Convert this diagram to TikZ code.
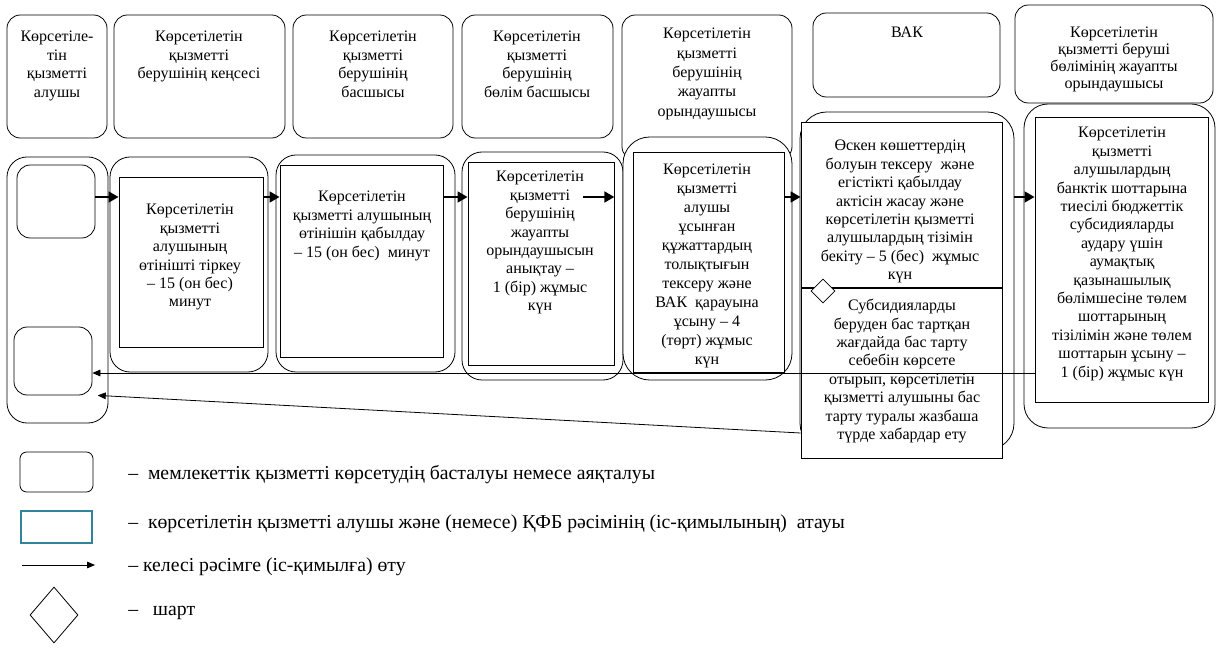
\documentclass[tikz,border=0pt]{standalone}
\usepackage{fontspec}
\setmainfont{Liberation Serif}
\usepackage{tikz}
\usetikzlibrary{positioning, arrows.meta, calc, fit, shapes.geometric}

\definecolor{legteal}{RGB}{49,132,155}

\begin{document}
\begin{tikzpicture}[x=0.75pt, y=-0.75pt,
    head/.style={draw, rounded corners=10pt, inner sep=0pt, line width=0.6pt, fill=white},
    lane/.style={draw, rounded corners=15pt, inner sep=0pt, line width=0.6pt, fill=white},
    act/.style={draw, inner sep=0pt, line width=0.6pt, fill=white},
    cond/.style={diamond, draw, fill=white, inner sep=0pt, line width=0.6pt},
    txt/.style={align=center, inner sep=0pt, anchor=north, font=\fontsize{12}{13.8}\selectfont},
    key/.style={anchor=west, inner sep=0pt, font=\fontsize{14.8}{17}\selectfont},
    flow/.style={-{Triangle[length=7.5pt, width=8pt]}, line width=2.2pt},
    back/.style={-{Triangle[length=6pt, width=5pt]}, line width=0.6pt}]

  \useasboundingbox (0,0) rectangle (1217,648);

  % headers
  \node[head, fit={(7,15) (107,138)}]     (h1) {};
  \node[head, fit={(114,15) (285,138)}]   (h2) {};
  \node[head, fit={(293,15) (453,138)}]   (h3) {};
  \node[head, fit={(462,15) (613,138)}]   (h4) {};
  \node[head, fit={(622,15) (792,160)}]   (h5) {};
  \node[head, fit={(813,13) (1000,97)}]   (h6) {};
  \node[head, fit={(1015,5) (1213,103)}]  (h7) {};

  % lanes
  \node[lane, fit={(7,157) (108,423)}]    (l1) {};
  \node[lane, fit={(110,157) (268,372)}]  (l2) {};
  \node[lane, fit={(276,155) (455,372)}]  (l3) {};
  \node[lane, fit={(462,152) (623,380)}]  (l4) {};
  \node[lane, rounded corners=20pt, fit={(623,137) (792,380)}]  (l5) {};
  \node[lane, rounded corners=20pt, fit={(800,112) (1014,450)}] (l6) {};
  \node[lane, rounded corners=18pt, fit={(1024,104) (1215,428)}] (l7) {};

  % start / end boxes of the first lane
  \node[head, fit={(17,165) (95,238)}]    (s1) {};
  \node[head, fit={(14,327) (92,395)}]    (s2) {};

  % steps
  \node[act, fit={(119,177) (263,347)}]   (r2) {};
  \node[act, fit={(280,165) (443,357)}]   (r3) {};
  \node[act, fit={(468,162) (614,365)}]   (r4) {};
  \node[act, fit={(633,152) (784,372)}]   (r5) {};
  \node[act, fit={(801,122) (1002,288)}]  (r6a) {};
  \node[act, fit={(801,288) (1002,458)}]  (r6b) {};
  \node[act, fit={(1035,117) (1208,402)}] (r7) {};
  \draw[line width=1.6pt] (r6a.south west) -- (r6a.south east);
  \node[cond, minimum width=18pt, minimum height=18pt] (c6) at (823,291) {};

  % header texts
  \node[txt] (th1) at (57,31)    {Көрсетіле-\\тін\\қызметті\\алушы};
  \node[txt] (th2) at (199,31)   {Көрсетілетін\\қызметті\\берушінің кеңсесі};
  \node[txt] (th3) at (373,31)   {Көрсетілетін\\қызметті\\берушінің\\басшысы};
  \node[txt] (th4) at (537,31)   {Көрсетілетін\\қызметті\\берушінің\\бөлім басшысы};
  \node[txt, font=\fontsize{12}{14.5}\selectfont] (th5) at (707,28)
    {Көрсетілетін\\қызметті\\берушінің\\жауапты\\орындаушысы};
  \node[txt] (th6) at (907,27)   {ВАК};
  \node[txt, font=\fontsize{12}{12.6}\selectfont] (th7) at (1114,27)
    {Көрсетілетін\\қызметті беруші\\бөлімінің жауапты\\орындаушысы};

  % step texts
  \node[txt] (tr2) at (190,204)  {Көрсетілетін\\қызметті\\алушының\\өтінішті тіркеу\\– 15 (он бес)\\минут};
  \node[txt] (tr3) at (362,191)  {Көрсетілетін\\қызметті алушының\\өтінішін қабылдау\\– 15 (он бес)~ минут};
  \node[txt] (tr4) at (540,171)  {Көрсетілетін\\қызметті\\берушінің\\жауапты\\орындаушысын\\анықтау –\\1 (бір) жұмыс\\күн};
  \node[txt, font=\fontsize{12}{14.2}\selectfont] (tr5) at (707,164)
    {Көрсетілетін\\қызметті\\алушы\\ұсынған\\құжаттардың\\толықтығын\\тексеру және\\ВАК~ қарауына\\ұсыну – 4\\(төрт) жұмыс\\күн};
  \node[txt] (tr6a) at (900,140) {Өскен көшеттердің\\болуын тексеру~ және\\егістікті қабылдау\\актісін жасау және\\көрсетілетін қызметті\\алушылардың тізімін\\бекіту – 5 (бес)~ жұмыс\\күн};
  \node[txt] (tr6b) at (902,299) {Субсидияларды\\беруден бас тартқан\\жағдайда бас тарту\\себебін көрсете\\отырып, көрсетілетін\\қызметті алушыны бас\\тарту туралы жазбаша\\түрде хабардар ету};
  \node[txt] (tr7) at (1122,127) {Көрсетілетін\\қызметті\\алушылардың\\банктік шоттарына\\тиесілі бюджеттік\\субсидияларды\\аудару үшін\\аумақтық\\қазынашылық\\бөлімшесіне төлем\\шоттарының\\тізілімін және төлем\\шоттарын ұсыну –\\1 (бір) жұмыс күн};

  % flow
  \coordinate (row)  at (0,197);
  \coordinate (a4)   at (583,197);
  \coordinate (ret1) at (0,373);
  \coordinate (ret2) at (0,433);
  \path[flow]
    (s1.east |- row) edge (r2.west |- row)
    (r2.east |- row) edge (r3.west |- row)
    (r3.east |- row) edge (r4.west |- row)
    (a4)             edge (r4.east |- row)
    (r5.east |- row) edge (r6a.west |- row)
    (l6.east |- row) edge (r7.west |- row);
  \path[back]
    (r7.west |- ret1)  edge (s2.east |- ret1)
    (r6b.west |- ret2) edge ([xshift=4pt]s2.south east);

  % legend
  \node[head, rounded corners=5pt, fit={(20,452) (93,492)}] (k1) {};
  \node[act, draw=legteal, line width=1.5pt, fit={(21,511) (92,543)}] (k2) {};
  \coordinate (k3a) at (22,565);
  \coordinate (k3b) at (95,565);
  \draw[back] (k3a) -- (k3b);
  \node[cond, minimum width=36pt, minimum height=42pt] (k4) at (54,615) {};

  \node[key] (d1) at (128,475) {–~~мемлекеттік қызметті көрсетудің басталуы немесе аяқталуы};
  \node[key] (d2) at (128,524) {–~~көрсетілетін қызметті алушы және (немесе) ҚФБ рәсімінің (іс-қимылының)~ атауы};
  \node[key] (d3) at (128,567) {– келесі рәсімге (іс-қимылға) өту};
  \node[key] (d4) at (128,613) {–~~~шарт};
\end{tikzpicture}
\end{document}
